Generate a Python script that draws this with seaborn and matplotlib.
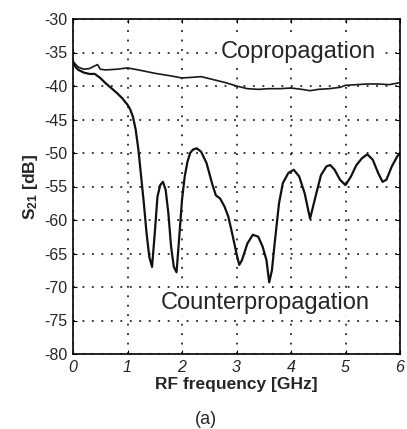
import matplotlib
matplotlib.use("Agg")
import matplotlib.pyplot as plt
import seaborn as sns
import pandas as pd

# --- data ---
co_freq = [0.0, 0.05, 0.1, 0.2, 0.3, 0.4, 0.45, 0.5, 0.6, 0.8, 1.0, 1.2, 1.5, 1.8, 2.0, 2.2, 2.35,
           2.6, 2.8, 3.0, 3.2, 3.4, 3.6, 3.8, 4.0, 4.2, 4.35, 4.5, 4.7, 4.9, 5.0, 5.2, 5.4, 5.6, 5.8, 6.0]
co_s21 = [-36.3, -36.8, -37.2, -37.5, -37.4, -37.0, -36.8, -37.5, -37.6, -37.5, -37.3, -37.6, -38.1, -38.5, -38.8, -38.7, -38.6,
          -39.1, -39.5, -40.0, -40.4, -40.5, -40.4, -40.4, -40.3, -40.5, -40.7, -40.5, -40.4, -40.2, -39.9, -39.8, -39.7, -39.7, -39.8, -39.5]

cp_freq = [0.0, 0.05, 0.1, 0.2, 0.3, 0.4, 0.5, 0.6, 0.7, 0.8, 0.9, 1.0, 1.05, 1.1, 1.15, 1.2, 1.25, 1.3, 1.35, 1.4, 1.45,
           1.5, 1.55, 1.6, 1.65, 1.7, 1.75, 1.8, 1.85, 1.9, 1.95, 2.0, 2.05, 2.1, 2.15, 2.2, 2.27, 2.35, 2.45, 2.55, 2.62,
           2.7, 2.78, 2.85, 2.92, 3.0, 3.05, 3.1, 3.2, 3.3, 3.4, 3.48, 3.55, 3.6, 3.65, 3.7, 3.78, 3.85, 3.95, 4.05,
           4.15, 4.25, 4.35, 4.45, 4.55, 4.65, 4.72, 4.8, 4.9, 5.0, 5.1, 5.2, 5.3, 5.4, 5.5, 5.6, 5.68, 5.75, 5.85, 5.95, 6.0]
cp_s21 = [-36.5, -37.2, -37.6, -38.0, -38.2, -38.2, -38.8, -39.6, -40.3, -41.0, -41.8, -42.8, -43.5, -44.6, -46.5, -49.5, -53.5, -57.5, -62.0, -65.5, -67.0,
          -62.0, -56.5, -54.8, -54.3, -55.5, -59.0, -64.0, -67.0, -67.8, -62.5, -57.0, -53.5, -51.3, -50.0, -49.5, -49.3, -49.8, -51.5, -54.5, -56.3,
          -56.8, -58.0, -59.5, -62.0, -65.0, -66.7, -66.0, -63.5, -62.2, -62.5, -64.0, -66.0, -69.3, -67.5, -63.5, -57.5, -54.5, -53.0, -52.5,
          -53.5, -56.0, -59.8, -56.5, -53.3, -52.0, -51.8, -52.5, -54.0, -54.8, -53.5, -51.8, -50.8, -50.2, -51.0, -53.0, -54.3, -54.0, -52.0, -50.5, -50.0]

x_ticks = [0, 1, 2, 3, 4, 5, 6]
y_ticks = [-80, -75, -70, -65, -60, -55, -50, -45, -40, -35, -30]

df = pd.concat([
    pd.DataFrame({"freq": co_freq, "s21": co_s21, "mode": "Copropagation"}),
    pd.DataFrame({"freq": cp_freq, "s21": cp_s21, "mode": "Counterpropagation"}),
])

sns.set_style("white")
plt.rcParams["font.family"] = ["Liberation Sans", "DejaVu Sans"]
plt.rcParams["mathtext.fontset"] = "custom"
plt.rcParams["mathtext.rm"] = "Liberation Sans"
plt.rcParams["mathtext.bf"] = "Liberation Sans:bold"

fig = plt.figure(figsize=(4.07, 4.29), dpi=100)
ax = fig.add_axes([73 / 407, 1 - 354 / 429, (400 - 73) / 407, (354 - 19) / 429])

sns.lineplot(data=df, x="freq", y="s21", hue="mode", palette=["#1a1a1a", "#111111"],
             size="mode", sizes=[1.2, 1.6], legend=False, ax=ax, estimator=None, sort=False)

ax.set_xlim(0, 6)
ax.set_ylim(-80, -30)
ax.set_xticks(x_ticks)
ax.set_yticks(y_ticks)
ax.set_xticklabels([str(t) for t in x_ticks], fontstyle="italic", fontsize=11.5)
ax.set_yticklabels([str(t) for t in y_ticks], fontsize=11.5)
ax.tick_params(direction="in", length=3, width=0.8, color="black", pad=4,
               top=True, right=True, bottom=True, left=True)
ax.grid(True, color="black", linestyle=(0, (1.2, 5)), linewidth=1.1)
for s in ax.spines.values():
    s.set_color("black")
    s.set_linewidth(1.2)

ax.set_xlabel("RF frequency [GHz]", fontsize=12.5, fontweight="bold", labelpad=2)
ax.set_ylabel(r"$\mathbf{S_{21}}$ [dB]", fontsize=12.5, fontweight="bold", labelpad=3)

bbox = dict(facecolor="white", edgecolor="none", pad=1.5)
ax.text(4.13, -34.9, "Copropagation", fontsize=17, ha="center", va="center", bbox=bbox, zorder=1.5)
ax.text(3.52, -72.4, "Counterpropagation", fontsize=17, ha="center", va="center", bbox=bbox, zorder=1.5)

fig.text(206 / 407, 1 - 419 / 429, "(a)", fontsize=13, ha="center", va="center")

fig.savefig("out.png", dpi=100)
